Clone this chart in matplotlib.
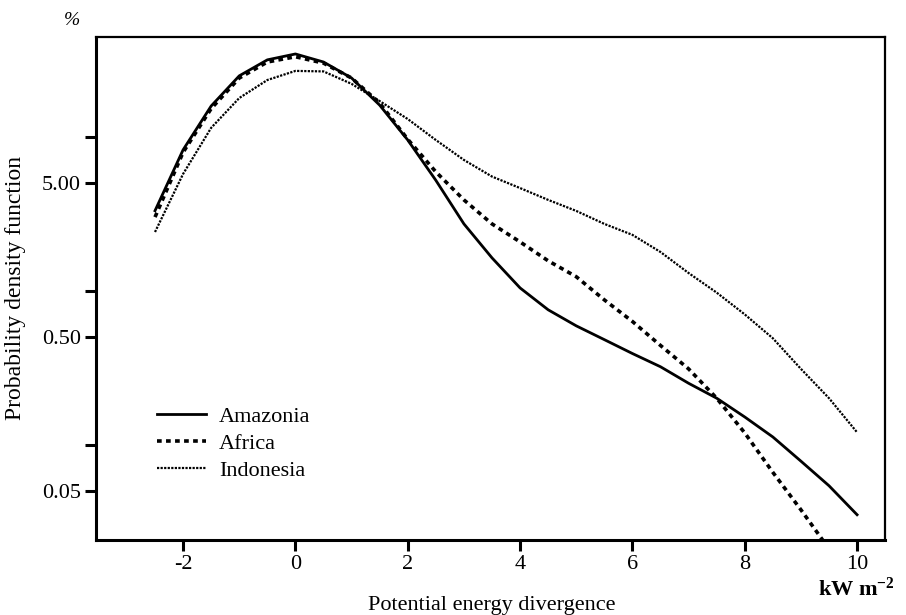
import matplotlib
matplotlib.use("Agg")
import matplotlib.pyplot as plt
from matplotlib.ticker import FixedLocator, NullLocator, FixedFormatter

# potential energy divergence (kW m-2)
x = [-2.5, -2.0, -1.5, -1.0, -0.5, 0.0, 0.5, 1.0, 1.5, 2.0, 2.5, 3.0, 3.5,
     4.0, 4.5, 5.0, 5.5, 6.0, 6.5, 7.0, 7.5, 8.0, 8.5, 9.0, 9.5, 10.0]

# probability density (%)
amazonia = [3.3, 8.2, 15.8, 24.8, 31.5, 34.4, 30.5, 24.0, 16.0, 9.5, 5.2, 2.71,
            1.63, 1.04, 0.75, 0.59, 0.48, 0.39, 0.32, 0.25, 0.20, 0.151, 0.112,
            0.078, 0.054, 0.035]
africa = [3.0, 7.9, 15.2, 24.0, 30.5, 33.0, 30.0, 24.0, 16.5, 9.6, 5.9, 3.88,
          2.71, 2.07, 1.56, 1.23, 0.87, 0.63, 0.44, 0.31, 0.20, 0.119, 0.066,
          0.0377, 0.021, 0.012]
indonesia = [2.40, 5.72, 11.4, 17.8, 23.3, 26.7, 26.5, 22.0, 17.0, 13.0, 9.5,
             7.05, 5.5, 4.63, 3.88, 3.29, 2.71, 2.30, 1.78, 1.30, 0.97, 0.70,
             0.49, 0.31, 0.20, 0.12]

y_ticks = [0.05, 0.1, 0.5, 1.0, 5.0, 10.0]
y_labels = ["0.05", "", "0.50", "", "5.00", ""]
x_ticks = [-2, 0, 2, 4, 6, 8, 10]

plt.rcParams["font.family"] = ["Liberation Serif", "DejaVu Serif"]
plt.rcParams["mathtext.default"] = "regular"

fig = plt.figure(figsize=(9.06, 6.15), dpi=100)
ax = fig.add_axes([0.106, 0.122, 0.871, 0.818])

ax.plot(x, amazonia, color="black", lw=2.0, label="Amazonia")
ax.plot(x, africa, color="black", lw=2.6, ls=(0, (1.3, 1.2)), label="Africa")
ax.plot(x, indonesia, color="black", lw=1.6, ls=(0, (1, 0.6)), label="Indonesia")

ax.set_yscale("log")
ax.set_ylim(0.024, 44.4)
ax.set_xlim(-3.55, 10.5)
ax.yaxis.set_major_locator(FixedLocator(y_ticks))
ax.yaxis.set_major_formatter(FixedFormatter(y_labels))
ax.yaxis.set_minor_locator(NullLocator())
ax.set_xticks(x_ticks)
ax.set_xticklabels([str(t) for t in x_ticks])

for side in ["left", "bottom"]:
    ax.spines[side].set_linewidth(2.2)
for side in ["top", "right"]:
    ax.spines[side].set_linewidth(1.6)
ax.tick_params(axis="both", direction="out", length=8, width=2.2,
               labelsize=16, pad=3)

ax.set_ylabel("Probability density function", fontsize=17, labelpad=11)
fig.text(0.543, 0.016, "Potential energy divergence", fontsize=16,
         ha="center", va="center")
fig.text(0.945, 0.042, r"kW m$^{-2}$", fontsize=16, ha="center",
         va="center", fontweight="bold")
fig.text(0.079, 0.967, "%", fontsize=14, style="italic", ha="center",
         va="center")

ax.legend(loc="upper left", bbox_to_anchor=(0.077, 0.266), frameon=False,
          fontsize=16, handlelength=2.2, handletextpad=0.6,
          labelspacing=0.3, borderaxespad=0, borderpad=0)

fig.savefig("out.png", dpi=100)
